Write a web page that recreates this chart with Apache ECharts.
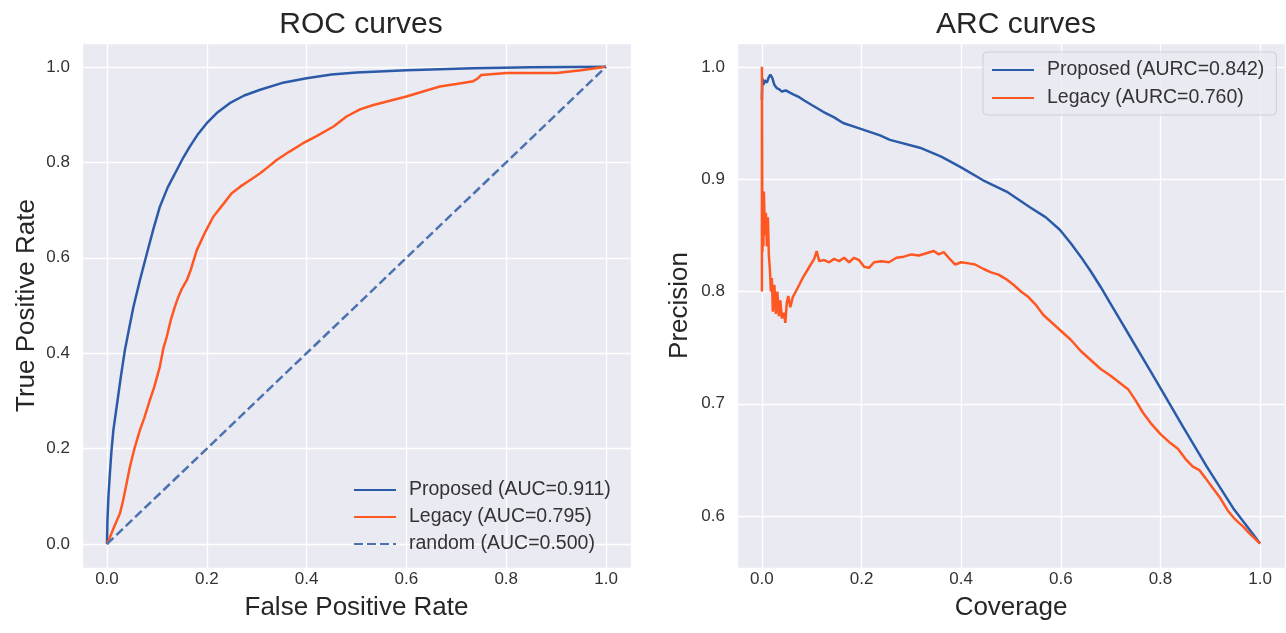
<!DOCTYPE html>
<html>
<head>
<meta charset="utf-8">
<script src="https://cdn.jsdelivr.net/npm/echarts@6/dist/echarts.min.js"></script>
<style>
  html, body { margin: 0; padding: 0; background: #fff; }
  #main { width: 1286px; height: 633px; }
</style>
</head>
<body>
<div id="main"></div>
<script>
// ROC 曲线数据 [FPR, TPR]
var rocProposed = [[0,0],[0.001,0.05],[0.003,0.1],[0.006,0.15],[0.009,0.195],[0.013,0.24],[0.02,0.292],[0.028,0.352],[0.036,0.407],[0.045,0.455],[0.053,0.497],[0.066,0.553],[0.08,0.609],[0.093,0.66],[0.106,0.707],[0.122,0.748],[0.14,0.784],[0.153,0.81],[0.166,0.833],[0.183,0.86],[0.2,0.882],[0.222,0.905],[0.246,0.924],[0.275,0.94],[0.307,0.952],[0.35,0.966],[0.4,0.976],[0.45,0.984],[0.5,0.988],[0.6,0.993],[0.734,0.997],[0.85,0.999],[1,1]];
var rocLegacy = [[0,0],[0.005,0.012],[0.012,0.03],[0.02,0.05],[0.026,0.064],[0.032,0.09],[0.038,0.12],[0.046,0.162],[0.055,0.2],[0.066,0.239],[0.075,0.265],[0.086,0.302],[0.095,0.33],[0.106,0.372],[0.113,0.41],[0.12,0.435],[0.128,0.47],[0.136,0.497],[0.143,0.518],[0.15,0.535],[0.16,0.553],[0.168,0.575],[0.18,0.616],[0.195,0.65],[0.213,0.686],[0.235,0.715],[0.25,0.735],[0.267,0.749],[0.29,0.765],[0.307,0.777],[0.325,0.792],[0.34,0.805],[0.365,0.822],[0.393,0.84],[0.42,0.855],[0.454,0.875],[0.48,0.896],[0.507,0.911],[0.534,0.92],[0.567,0.929],[0.6,0.938],[0.635,0.949],[0.667,0.959],[0.7,0.964],[0.734,0.97],[0.742,0.975],[0.75,0.983],[0.801,0.987],[0.901,0.987],[0.95,0.993],[1,1]];
var rocRandom = [[0,0],[1,1]];

// ARC 曲线数据 [Coverage, Precision]
var arcProposed = [[0,0.971],[0.001,0.99],[0.003,0.984],[0.006,0.988],[0.01,0.986],[0.014,0.991],[0.017,0.993],[0.021,0.99],[0.025,0.984],[0.03,0.981],[0.035,0.98],[0.04,0.978],[0.048,0.979],[0.056,0.977],[0.065,0.975],[0.075,0.973],[0.085,0.97],[0.1,0.966],[0.123,0.96],[0.145,0.955],[0.163,0.95],[0.197,0.945],[0.237,0.939],[0.257,0.935],[0.317,0.928],[0.36,0.92],[0.398,0.911],[0.444,0.899],[0.491,0.889],[0.538,0.875],[0.57,0.866],[0.598,0.855],[0.62,0.843],[0.64,0.831],[0.66,0.818],[0.68,0.804],[0.7,0.789],[0.72,0.774],[0.74,0.759],[0.76,0.744],[0.78,0.729],[0.8,0.714],[0.846,0.679],[0.893,0.644],[0.946,0.607],[1,0.5755]];
var arcLegacy = [[0,0.8],[0,1],[0.001,0.835],[0.002,0.889],[0.003,0.84],[0.004,0.889],[0.006,0.85],[0.008,0.87],[0.01,0.84],[0.012,0.866],[0.014,0.832],[0.016,0.82],[0.018,0.8],[0.02,0.812],[0.022,0.782],[0.025,0.806],[0.028,0.78],[0.031,0.8],[0.034,0.778],[0.037,0.792],[0.04,0.776],[0.044,0.781],[0.047,0.772],[0.05,0.79],[0.053,0.796],[0.057,0.786],[0.062,0.795],[0.068,0.8],[0.075,0.806],[0.083,0.813],[0.09,0.818],[0.098,0.824],[0.105,0.829],[0.11,0.836],[0.115,0.827],[0.125,0.828],[0.135,0.826],[0.145,0.829],[0.155,0.827],[0.165,0.83],[0.175,0.826],[0.185,0.83],[0.195,0.828],[0.205,0.822],[0.215,0.821],[0.225,0.826],[0.24,0.827],[0.255,0.826],[0.27,0.83],[0.285,0.831],[0.3,0.833],[0.315,0.832],[0.33,0.834],[0.345,0.836],[0.355,0.833],[0.365,0.835],[0.375,0.83],[0.388,0.824],[0.4,0.826],[0.415,0.825],[0.428,0.824],[0.445,0.82],[0.46,0.817],[0.475,0.815],[0.49,0.811],[0.505,0.806],[0.52,0.8],[0.535,0.795],[0.55,0.788],[0.565,0.779],[0.58,0.773],[0.6,0.765],[0.62,0.757],[0.64,0.747],[0.66,0.739],[0.68,0.731],[0.7,0.725],[0.72,0.718],[0.735,0.713],[0.75,0.703],[0.765,0.692],[0.78,0.683],[0.8,0.673],[0.82,0.665],[0.835,0.66],[0.85,0.651],[0.865,0.644],[0.878,0.641],[0.89,0.634],[0.905,0.625],[0.92,0.616],[0.935,0.605],[0.95,0.597],[0.965,0.591],[0.98,0.584],[1,0.5755]];

var rocNames = ['Proposed (AUC=0.911)', 'Legacy (AUC=0.795)', 'random (AUC=0.500)'];
var arcNames = ['Proposed (AURC=0.842)', 'Legacy (AURC=0.760)'];

var FONT = '"Liberation Sans", Arial, sans-serif';
var blue = '#2b5ba8', red = '#ff5722', dashBlue = '#4c72b0';

function xAxisOf(idx, name) {
    return {
        type: 'value', gridIndex: idx, min: -0.05, max: 1.05, splitNumber: 5,
        name: name, nameLocation: 'middle', nameGap: 27,
        nameTextStyle: { fontFamily: FONT, fontSize: 26, color: '#262626' },
        axisLine: { show: false }, axisTick: { show: false },
        axisLabel: { showMinLabel: false, showMaxLabel: false, margin: 3, fontFamily: FONT, fontSize: 17, color: '#333',
            formatter: function (v) { return v.toFixed(1); } },
        splitLine: { show: true, lineStyle: { color: '#fff', width: 1.3 } }
    };
}
function yAxisOf(idx, name, min, max, gap) {
    return {
        type: 'value', gridIndex: idx, min: min, max: max, splitNumber: 5,
        name: name, nameLocation: 'middle', nameGap: gap,
        nameTextStyle: { fontFamily: FONT, fontSize: 26, color: '#262626' },
        axisLine: { show: false }, axisTick: { show: false },
        axisLabel: { showMinLabel: false, showMaxLabel: false, margin: 12, fontFamily: FONT, fontSize: 17, color: '#333',
            formatter: function (v) { return v.toFixed(1); } },
        splitLine: { show: true, lineStyle: { color: '#fff', width: 1.3 } }
    };
}
function lineSeries(name, data, idx, color, dashed) {
    return {
        name: name, type: 'line', xAxisIndex: idx, yAxisIndex: idx, data: data,
        showSymbol: false, symbol: 'none', animation: false,
        lineStyle: { color: color, width: 2.5, type: dashed ? [9, 4] : 'solid' },
        itemStyle: { color: color }
    };
}

var myChart = echarts.init(document.getElementById('main'));
var option = {
    backgroundColor: '#fff',
    animation: false,
    title: [
        { text: 'ROC curves', left: 356, top: 5, textAlign: 'center',
          textStyle: { fontFamily: FONT, fontSize: 30, fontWeight: 'normal', color: '#262626' } },
        { text: 'ARC curves', left: 1011, top: 5, textAlign: 'center',
          textStyle: { fontFamily: FONT, fontSize: 30, fontWeight: 'normal', color: '#262626' } }
    ],
    grid: [
        { left: 82, right: 655, top: 43, bottom: 65, show: true, backgroundColor: '#eaeaf2', borderWidth: 0 },
        { left: 737, right: 1, top: 43, bottom: 65, show: true, backgroundColor: '#eaeaf2', borderWidth: 0 }
    ],
    xAxis: [xAxisOf(0, 'False Positive Rate'), xAxisOf(1, 'Coverage')],
    yAxis: [yAxisOf(0, 'True Positive Rate', -0.05, 1.05, 42), yAxisOf(1, 'Precision', 0.55375, 1.02125, 44)],
    legend: [
        { data: rocNames, orient: 'vertical', left: 348, top: 475, itemWidth: 42, itemHeight: 14, itemGap: 7,
          itemStyle: { opacity: 0 },
          textStyle: { fontFamily: FONT, fontSize: 19.5, color: '#333', padding: [0, 0, 0, 8] } },
        { data: arcNames, orient: 'vertical', left: 983, top: 52, itemWidth: 42, itemHeight: 14, itemGap: 8,
          itemStyle: { opacity: 0 },
          padding: [8, 12, 7, 8], borderColor: '#cfcfd6', borderWidth: 1, borderRadius: 4,
          backgroundColor: 'rgba(234,234,242,0.8)',
          textStyle: { fontFamily: FONT, fontSize: 19.5, color: '#333', padding: [0, 0, 0, 8] } }
    ],
    series: [
        lineSeries(rocNames[0], rocProposed, 0, blue, false),
        lineSeries(rocNames[1], rocLegacy, 0, red, false),
        lineSeries(rocNames[2], rocRandom, 0, dashBlue, true),
        lineSeries(arcNames[0], arcProposed, 1, blue, false),
        lineSeries(arcNames[1], arcLegacy, 1, red, false)
    ]
};
myChart.setOption(option);
</script>
</body>
</html>
